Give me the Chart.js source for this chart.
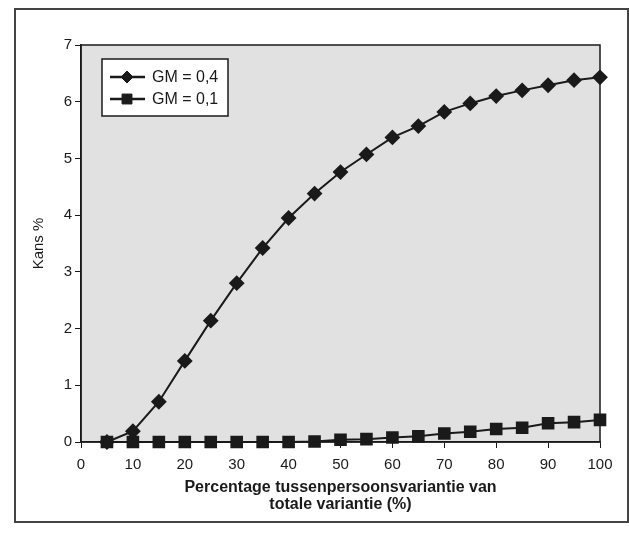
<!DOCTYPE html>
<html>
<head>
<meta charset="utf-8">
<script src="https://cdn.jsdelivr.net/npm/chart.js@4/dist/chart.umd.min.js"></script>
<style>
  html, body { margin: 0; padding: 0; background: #fff; }
  #wrap { width: 629px; height: 533px; position: relative; }
</style>
</head>
<body>
<div id="wrap"><canvas id="kans"></canvas></div>
<script>
// ── data ──
const percentages = [5, 10, 15, 20, 25, 30, 35, 40, 45, 50, 55, 60, 65, 70, 75, 80, 85, 90, 95, 100];
const gm04 = [0, 0.19, 0.71, 1.43, 2.14, 2.8, 3.42, 3.95, 4.38, 4.76, 5.07, 5.37, 5.57, 5.82, 5.97, 6.1, 6.2, 6.29, 6.38, 6.43];
const gm01 = [0, 0, 0, 0, 0, 0, 0, 0, 0.01, 0.04, 0.05, 0.08, 0.1, 0.15, 0.18, 0.23, 0.25, 0.33, 0.35, 0.39];
const seriesLabels = ['GM = 0,4', 'GM = 0,1'];
const xTitle = ['Percentage tussenpersoonsvariantie van', 'totale variantie (%)'];
const yTitle = 'Kans %';

const FONT = "'Liberation Sans', Arial, sans-serif";
const INK = '#1a1a1a';

const toPoints = vals => vals.map((v, i) => ({ x: percentages[i], y: v }));

// gray plot background, outer frame, plot border
const framePlugin = {
    id: 'frame',
    beforeDraw(chart) {
        const { ctx, chartArea: a } = chart;
        ctx.save();
        ctx.fillStyle = '#e1e1e1';
        ctx.fillRect(a.left, a.top, a.right - a.left, a.bottom - a.top);
        ctx.strokeStyle = '#444';
        ctx.lineWidth = 2;
        ctx.strokeRect(15, 9, 613, 513);
        ctx.restore();
    },
    afterDatasetsDraw(chart) {
        const { ctx, chartArea: a } = chart;
        ctx.save();
        ctx.strokeStyle = INK;
        ctx.lineWidth = 1.5;
        ctx.strokeRect(a.left, a.top, a.right - a.left, a.bottom - a.top);
        ctx.restore();
    },
};

// boxed legend with line + marker samples
const boxLegend = {
    id: 'boxLegend',
    afterDraw(chart) {
        const { ctx, chartArea: a } = chart;
        const x0 = a.left + 21, y0 = a.top + 14, w = 126, h = 57;
        ctx.save();
        ctx.fillStyle = '#fff';
        ctx.fillRect(x0, y0, w, h);
        ctx.strokeStyle = INK;
        ctx.lineWidth = 1.5;
        ctx.strokeRect(x0, y0, w, h);
        chart.data.datasets.forEach((ds, i) => {
            const y = y0 + 18 + i * 22;
            ctx.strokeStyle = ds.borderColor;
            ctx.lineWidth = 2.5;
            ctx.beginPath();
            ctx.moveTo(x0 + 8, y);
            ctx.lineTo(x0 + 43, y);
            ctx.stroke();
            ctx.fillStyle = INK;
            ctx.strokeStyle = INK;
            ctx.lineWidth = 1;
            Chart.helpers.drawPoint(ctx, {
                pointStyle: ds.pointStyle,
                radius: ds.pointRadius - 0.5,
                borderWidth: 1,
            }, x0 + 25, y);
            ctx.fillStyle = INK;
            ctx.font = '16px ' + FONT;
            ctx.textBaseline = 'middle';
            ctx.fillText(ds.label, x0 + 50, y + 1);
        });
        ctx.restore();
    },
};

new Chart(document.getElementById('kans'), {
    type: 'line',
    data: {
        datasets: [
            {
                label: seriesLabels[0],
                data: toPoints(gm04),
                borderColor: INK,
                backgroundColor: INK,
                pointBackgroundColor: INK,
                pointBorderColor: INK,
                pointStyle: 'rectRot',
                pointRadius: 6.5,
                borderWidth: 2,
            },
            {
                label: seriesLabels[1],
                data: toPoints(gm01),
                borderColor: INK,
                backgroundColor: INK,
                pointBackgroundColor: INK,
                pointBorderColor: INK,
                pointStyle: 'rect',
                pointRadius: 7.5,
                borderWidth: 2,
            },
        ],
    },
    options: {
        responsive: true,
        maintainAspectRatio: false,
        animation: false,
        clip: false,
        layout: { padding: { left: 20, right: 29, top: 45, bottom: 14 } },
        plugins: {
            legend: { display: false },
            tooltip: { enabled: false },
        },
        scales: {
            x: {
                type: 'linear',
                min: 0,
                max: 100,
                ticks: { stepSize: 10, color: INK, font: { family: FONT, size: 15 }, padding: 8, maxRotation: 0 },
                grid: { drawOnChartArea: false, drawTicks: true, tickLength: 6, color: INK },
                border: { color: INK, width: 1.5 },
                title: {
                    display: true,
                    text: xTitle,
                    color: INK,
                    font: { family: FONT, size: 16, weight: 'bold', lineHeight: 1.05 },
                    padding: { top: 4, bottom: 6 },
                },
                afterFit(scale) { scale.height = 77; },
            },
            y: {
                min: 0,
                max: 7,
                ticks: { stepSize: 1, color: INK, font: { family: FONT, size: 15 }, padding: 3 },
                grid: { drawOnChartArea: false, drawTicks: true, tickLength: 6, color: INK },
                border: { color: INK, width: 1.5 },
                title: {
                    display: true,
                    text: yTitle,
                    color: INK,
                    font: { family: FONT, size: 15 },
                    padding: { top: 10, bottom: 0 },
                },
                afterFit(scale) { scale.width = 61; },
            },
        },
    },
    plugins: [framePlugin, boxLegend],
});
</script>
</body>
</html>
